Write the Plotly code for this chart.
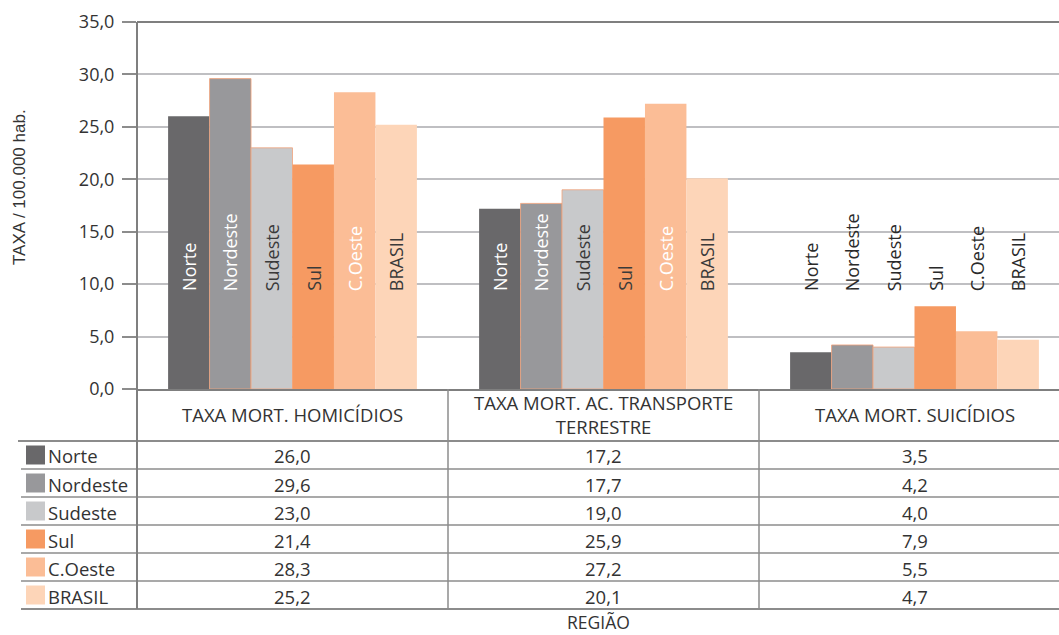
import plotly.graph_objects as go

# Regions (series) and mortality-rate indicators (categories)
regioes = ["Norte", "Nordeste", "Sudeste", "Sul", "C.Oeste", "BRASIL"]
indicadores = ["TAXA MORT. HOMICÍDIOS",
               "TAXA MORT. AC. TRANSPORTE<br>TERRESTRE",
               "TAXA MORT. SUICÍDIOS"]

# Rates per 100,000 inhabitants: one list per region, in indicator order
norte = [26.0, 17.2, 3.5]
nordeste = [29.6, 17.7, 4.2]
sudeste = [23.0, 19.0, 4.0]
sul = [21.4, 25.9, 7.9]
c_oeste = [28.3, 27.2, 5.5]
brasil = [25.2, 20.1, 4.7]
valores = [norte, nordeste, sudeste, sul, c_oeste, brasil]

cores = ["#69686a", "#98989b", "#c8c9cb", "#f69a62", "#fbbd96", "#fdd5b8"]
cor_rotulo = ["white", "white", "#3a3a3a", "#3a3a3a", "white", "#3a3a3a"]
cor_borda = [None, "#f2a27a", "#f2a27a", None, None, None]

W, H = 1059, 635
L, T, B = 137, 22, 389          # plot area edges in pixels
UNIT = 311                      # pixels per category
x_max = -0.5 + (W - L) / UNIT

FONT = "Open Sans"
TXT = "#333333"
LINE = "#8c8c8c"


def px_x(px):
    return (px - L) / (W - L)


def px_y(py):
    return (B - py) / (B - T)


BARGAP = 0.2
n = len(regioes)
bw = (1 - BARGAP) / n
xs = list(range(len(indicadores)))

fig = go.Figure()
for i, (nome, vals) in enumerate(zip(regioes, valores)):
    fig.add_trace(go.Bar(
        x=xs, y=vals, name=nome,
        marker=dict(color=cores[i],
                    line=dict(color=cor_borda[i] or cores[i],
                              width=0.8 if cor_borda[i] else 0)),
        showlegend=False, hoverinfo="y+name",
    ))

annotations = []
shapes = []

# Vertical region labels drawn at a common height inside/over the bars
for i, nome in enumerate(regioes):
    off = -(1 - BARGAP) / 2 + bw * (i + 0.5)
    for j in xs:
        dentro = valores[i][j] > 9.5
        annotations.append(dict(
            x=j + off, y=9.15, xref="x", yref="y", text=nome,
            textangle=-90, showarrow=False, xanchor="center", yanchor="bottom",
            font=dict(family=FONT, size=18,
                      color=cor_rotulo[i] if dentro else "#2a2a2a"),
        ))

# Top border of the plot area
shapes.append(dict(type="line", xref="paper", yref="paper",
                   x0=0, x1=1, y0=1, y1=1, line=dict(color="#7f7f7f", width=2)))

# Data table below the chart
row_top = 441
row_h = 28
rows_y = [row_top + row_h * k for k in range(n + 1)]
bottom = rows_y[-1]

# Horizontal rules
shapes.append(dict(type="line", xref="paper", yref="paper",
                   x0=px_x(18), x1=1, y0=px_y(row_top), y1=px_y(row_top),
                   line=dict(color=LINE, width=2)))
for k, yy in enumerate(rows_y[1:]):
    shapes.append(dict(type="line", xref="paper", yref="paper",
                       x0=px_x(21), x1=1, y0=px_y(yy), y1=px_y(yy),
                       line=dict(color=LINE, width=2 if yy == bottom else 1.3)))
# Vertical rules: y axis continued, then column separators
shapes.append(dict(type="line", xref="paper", yref="paper",
                   x0=0, x1=0, y0=px_y(T), y1=px_y(bottom),
                   line=dict(color="#7f7f7f", width=2)))
for sep in [0.5, 1.5]:
    shapes.append(dict(type="line", xref="x", yref="paper",
                       x0=sep, x1=sep, y0=0, y1=px_y(bottom),
                       line=dict(color=LINE, width=1.5)))

# Column headers
for j, ind in enumerate(indicadores):
    annotations.append(dict(
        x=j, y=px_y(414), xref="x", yref="paper", text=ind,
        showarrow=False, xanchor="center", yanchor="middle",
        font=dict(family=FONT, size=18.5, color=TXT),
    ))

# Rows: legend key, region name and values
for i, nome in enumerate(regioes):
    yc = rows_y[i] + row_h / 2
    shapes.append(dict(type="rect", xref="paper", yref="paper",
                       x0=px_x(26), x1=px_x(45),
                       y0=px_y(yc - 9.5), y1=px_y(yc + 9.5),
                       fillcolor=cores[i], line=dict(width=0)))
    annotations.append(dict(
        x=px_x(46), y=px_y(yc + 1), xref="paper", yref="paper", text=nome,
        showarrow=False, xanchor="left", yanchor="middle",
        font=dict(family=FONT, size=18.5, color=TXT),
    ))
    for j in xs:
        annotations.append(dict(
            x=j, y=px_y(yc + 1), xref="x", yref="paper",
            text=f"{valores[i][j]:.1f}".replace(".", ","),
            showarrow=False, xanchor="center", yanchor="middle",
            font=dict(family=FONT, size=18.5, color=TXT),
        ))

# Axis titles
annotations.append(dict(
    x=px_x(19), y=px_y(187), xref="paper", yref="paper", text="TAXA / 100.000 hab.",
    textangle=-90, showarrow=False, xanchor="center", yanchor="middle",
    font=dict(family="Liberation Sans", size=17, color=TXT),
))
annotations.append(dict(
    x=px_x(598), y=px_y(635), xref="paper", yref="paper", text="REGIÃO",
    showarrow=False, xanchor="center", yanchor="bottom", borderpad=0,
    font=dict(family=FONT, size=17.5, color=TXT),
))

fig.update_layout(
    width=W, height=H,
    margin=dict(l=L, r=0, t=T, b=H - B, pad=0),
    paper_bgcolor="white", plot_bgcolor="white",
    barmode="group", bargap=BARGAP, bargroupgap=0,
    separators=",.",
    font=dict(family=FONT, color=TXT),
    xaxis=dict(range=[-0.5, x_max], showticklabels=False, ticks="",
               showgrid=False, zeroline=False, showline=True,
               linecolor="#7f7f7f", linewidth=2, fixedrange=True),
    yaxis=dict(range=[0, 35], dtick=5, tickformat=".1f",
               showgrid=True, gridcolor="#bfbfc2", gridwidth=1.5,
               zeroline=False, showline=False,
               ticks="outside", ticklen=14, tickcolor="#8c8c8c", tickwidth=1.5,
               ticklabelstandoff=4,
               tickfont=dict(family=FONT, size=18, color=TXT)),
    annotations=annotations,
    shapes=shapes,
)

fig.write_html("out.html")
